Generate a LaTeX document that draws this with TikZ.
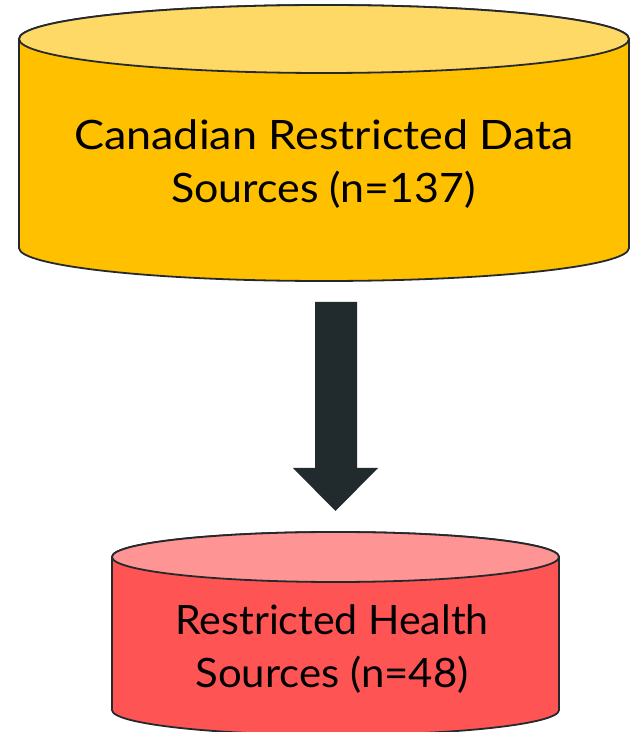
\documentclass[tikz,border=0pt]{standalone}
\usepackage{fontspec}
\setmainfont{Lato}
\usetikzlibrary{calc}

\definecolor{amberside}{HTML}{FFC000}
\definecolor{amberlid}{HTML}{FFD966}
\definecolor{redside}{HTML}{FF5454}
\definecolor{redlid}{HTML}{FF9494}
\definecolor{outline}{HTML}{25292C}
\definecolor{arrowfill}{HTML}{212A2C}

% widen a line of text horizontally by the given factor
\newcommand{\widen}[2]{\scalebox{#1}[1]{#2}}

\tikzset{
  cylside/.style={draw=outline, line width=1.8pt, line join=round},
  cyllid/.style={draw=outline, line width=1.8pt},
  label/.style={anchor=base, inner sep=0pt, text=black,
    font=\fontsize{40.5}{48}\selectfont},
  blockarrow/.style={fill=arrowfill, draw=none},
}

\begin{document}
\begin{tikzpicture}[x=1pt, y=1pt]
  \useasboundingbox (0,0) rectangle (631,732);

  % upper store: Canadian restricted data
  \fill[white] (0,0) rectangle (631,732);
  \draw[cylside, fill=amberside]
    (19,693) -- (19,484)
    arc[start angle=180, end angle=360, x radius=305, y radius=33]
    -- (629,693)
    arc[start angle=0, end angle=180, x radius=305, y radius=34] -- cycle;
  \draw[cyllid, fill=amberlid] (324,693) ellipse[x radius=305, y radius=34];
  \node[label] (topA) at (324,582) {\widen{1.11}{Canadian Restricted Data}};
  \node[label] (topB) at (323.5,529) {\widen{1.06}{Sources (n=137)}};

  % lower store: restricted health sources
  \draw[cylside, fill=redside]
    (112,175) -- (112,22)
    arc[start angle=180, end angle=360, x radius=223.5, y radius=25]
    -- (559,175)
    arc[start angle=0, end angle=180, x radius=223.5, y radius=25] -- cycle;
  \draw[cyllid, fill=redlid] (335.5,175) ellipse[x radius=223.5, y radius=25];
  \node[label] (botA) at (332,97) {\widen{1.015}{Restricted Health}};
  \node[label] (botB) at (332,45) {\widen{1.035}{Sources (n=48)}};

  % block arrow between the two stores
  \coordinate (arrowtop) at (336,430);
  \coordinate (arrowtip) at (335.5,221);
  \fill[blockarrow]
    ($(arrowtop)+(-21,0)$) -- ($(arrowtop)+(21,0)$)
    -- ($(arrowtop)+(21,-166)$) -- ($(arrowtop)+(42,-166)$)
    -- (arrowtip)
    -- ($(arrowtop)+(-43,-166)$) -- ($(arrowtop)+(-21,-166)$) -- cycle;
\end{tikzpicture}
\end{document}
